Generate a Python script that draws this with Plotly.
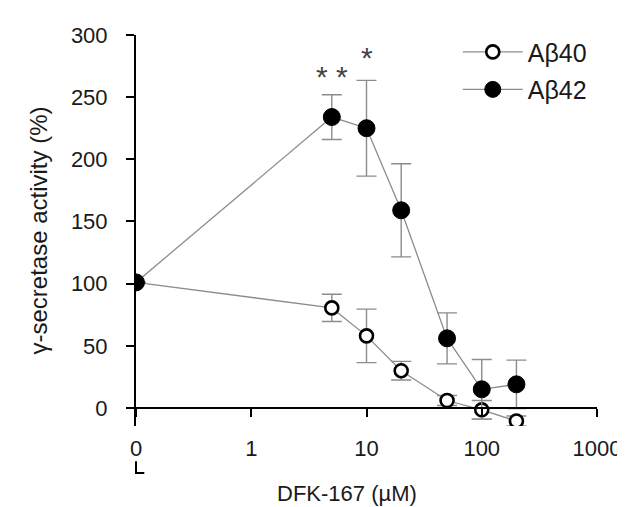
import plotly.graph_objects as go
import math

# ---- data ----
dose = [0, 5, 10, 20, 50, 100, 200]            # DFK-167 (µM); 0 = vehicle
ab40 = [101, 80.5, 58, 30, 6, -1.5, -10.5]
ab40_err = [0, 11, 21.5, 7.5, 4, 7.5, 4]
ab42 = [101, 234, 225, 159, 56, 15, 19]
ab42_err = [0, 18, 38.5, 37.5, 20.5, 24, 19.5]

x_tick_vals = [0, 1, 10, 100, 1000]
x_tick_text = ["0", "1", "10", "100", "1000"]
y_ticks = [0, 50, 100, 150, 200, 250, 300]

ZERO_POS = 0.1  # the "0" dose is drawn one decade below 1 on the log axis
def xpos(d):
    return d if d > 0 else ZERO_POS

xs = [xpos(d) for d in dose]
tvals = [xpos(v) for v in x_tick_vals]

FONT = "Liberation Sans, Arial, Helvetica, sans-serif"
LINE_GREY = "#8c8c8c"
TXT = "#1a1a1a"

fig = go.Figure()
fig.add_trace(go.Scatter(
    x=xs, y=ab40, name="Aβ40", mode="lines+markers",
    line=dict(color=LINE_GREY, width=1.3),
    marker=dict(symbol="circle", size=13, color="white",
                line=dict(color="black", width=2.6)),
    error_y=dict(type="data", array=ab40_err, color=LINE_GREY,
                 thickness=1.4, width=10),
    legendgroup="a40",
))
fig.add_trace(go.Scatter(
    x=xs, y=ab42, name="Aβ42", mode="lines+markers",
    line=dict(color=LINE_GREY, width=1.3),
    marker=dict(symbol="circle", size=17, color="black",
                line=dict(color="black", width=1)),
    error_y=dict(type="data", array=ab42_err, color=LINE_GREY,
                 thickness=1.4, width=10),
    legendgroup="a42",
))

y_lo, y_hi = -14.5, 300
zero_paper = (0 - y_lo) / (y_hi - y_lo)

fig.update_layout(
    width=625, height=507,
    margin=dict(l=128, r=30, t=27, b=89),
    paper_bgcolor="white", plot_bgcolor="white",
    font=dict(family=FONT, size=22, color=TXT),
    showlegend=True,
    legend=dict(x=0.698, y=1.015, xanchor="left", yanchor="top",
                font=dict(size=25, color=TXT),
                bgcolor="rgba(0,0,0,0)", tracegroupgap=2,
                itemwidth=60),
    xaxis=dict(
        type="log", range=[math.log10(ZERO_POS), 3],
        tickvals=tvals, ticktext=x_tick_text,
        showline=True, linecolor="black", linewidth=2,
        ticks="outside", ticklen=8, tickwidth=2, tickcolor="black",
        showgrid=False, zeroline=False,
        anchor="free", position=zero_paper,
        ticklabelstandoff=13,
        tickfont=dict(size=22),
    ),
    yaxis=dict(
        range=[y_lo, y_hi], tickvals=y_ticks,
        showline=True, linecolor="black", linewidth=2,
        ticks="outside", ticklen=8, tickwidth=2, tickcolor="black",
        showgrid=False, zeroline=False,
        ticklabelstandoff=14,
        tickfont=dict(size=22),
        title=dict(text="γ-secretase activity (%)", font=dict(size=24),
                   standoff=16),
    ),
    annotations=[
        dict(x=math.log10(5), y=267, xref="x", yref="y", text="* *",
             showarrow=False, font=dict(size=30, color="#444444"),
             xanchor="center", yanchor="middle"),
        dict(x=math.log10(10), y=282, xref="x", yref="y", text="*",
             showarrow=False, font=dict(size=30, color="#444444"),
             xanchor="center", yanchor="middle"),
        dict(x=0.458, y=-0.172, xref="paper", yref="paper",
             text="DFK-167 (µM)", showarrow=False,
             font=dict(size=22, color=TXT),
             xanchor="center", yanchor="middle"),
    ],
    shapes=[
        dict(type="path", xref="paper", yref="paper",
             path="M 0 -0.09 L 0 -0.12 L 0.018 -0.12",
             line=dict(color="black", width=2)),
    ],
)

fig.write_html("out.html")
